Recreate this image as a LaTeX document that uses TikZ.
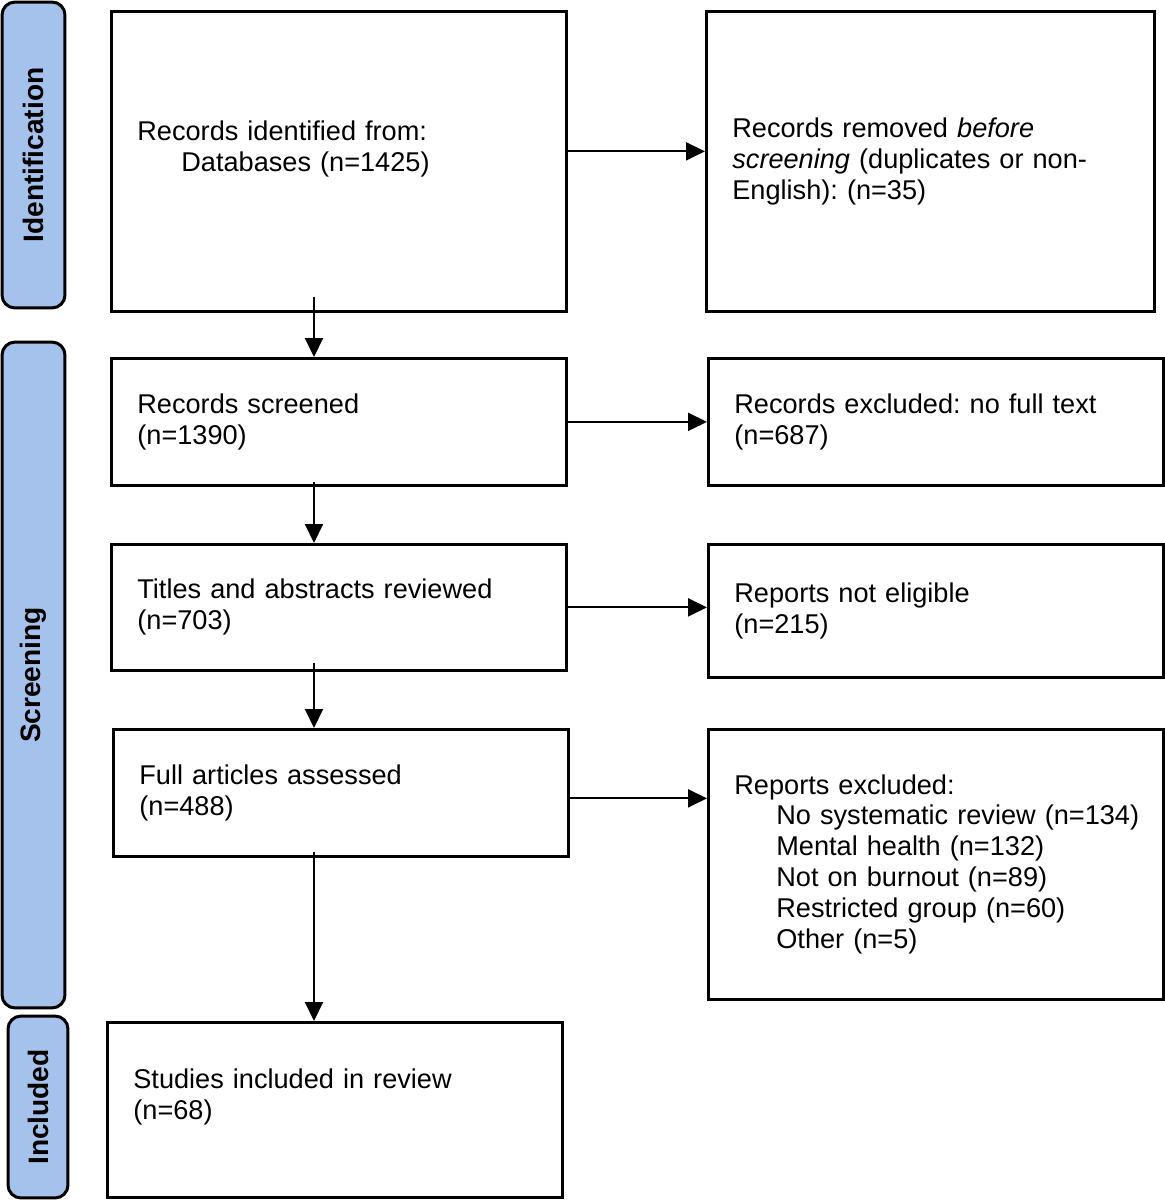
\documentclass[tikz,border=0pt]{standalone}
\usepackage{fontspec}
\setmainfont{Liberation Sans}
\usetikzlibrary{arrows.meta}
\definecolor{stageblue}{RGB}{164,194,235}
\def\px{0.02cm}
\frenchspacing
\tikzset{
semithick,
>={Triangle[length=0.38cm,width=0.36cm]},
stage/.style={draw,line width=0.06cm,rounded corners=0.26cm,fill=stageblue,inner sep=0pt,
  rotate=90,font=\fontsize{16}{19}\selectfont\bfseries},
box/.style={draw,line width=0.055cm,inner xsep=0.52cm,inner ysep=0pt,align=left,
  anchor=north west,font=\fontsize{15.45}{17.6}\selectfont},
wide/.style={text width=8.06cm,minimum width=9.1cm},
flow/.style={->,line width=0.04cm}
}
\begin{document}
\begin{tikzpicture}[x=\px,y=-\px]
\useasboundingbox (0,0) rectangle (1164,1200);
\node[stage,minimum width=6.12cm,minimum height=1.26cm] (ident) at (33.5,155) {Identification};
\node[stage,minimum width=13.32cm,minimum height=1.26cm] (scrn) at (33.5,675) {Screening};
\node[stage,minimum width=3.64cm,minimum height=1.2cm] (incl) at (38,1107) {Included};
\node[box,wide,minimum height=6cm] (rec) at (110,10)
  {Records identified from:\\\hspace*{0.88cm}Databases (n=1425)\\\mbox{}};
\node[box,text width=7.92cm,minimum width=8.96cm,minimum height=6cm] (rem) at (705,10)
  {Records removed \textit{before}\\\textit{screening} (duplicates or non-\\English): (n=35)};
\node[box,wide,minimum height=2.54cm] (scr) at (110,357)
  {Records screened\\(n=1390)};
\node[box,wide,minimum height=2.54cm] (exc) at (707,357)
  {Records excluded: no full text\\(n=687)};
\node[box,wide,minimum height=2.52cm] (tia) at (110,543)
  {Titles and abstracts reviewed\\(n=703)};
\node[box,wide,minimum height=2.66cm] (nel) at (707,543)
  {Reports not eligible\\(n=215)};
\node[box,wide,minimum height=2.54cm] (full) at (112,728)
  {Full articles assessed\\(n=488)};
\node[box,wide,minimum height=5.4cm] (rex) at (707,728)
  {Reports excluded:\\
  \hspace*{0.84cm}\mbox{No systematic review (n=134)}\\
  \hspace*{0.84cm}Mental health (n=132)\\
  \hspace*{0.84cm}Not on burnout (n=89)\\
  \hspace*{0.84cm}Restricted group (n=60)\\
  \hspace*{0.84cm}Other (n=5)};
\node[box,wide,minimum height=3.5cm] (inc) at (106,1021)
  {Studies included in review\\(n=68)\\\mbox{}};
\coordinate (spine) at (314,0);
\coordinate (recout) at ([yshift=0.2cm]rec.east);
\coordinate (fullout) at ([yshift=-0.11cm]full.east);
\draw[flow] ([yshift=0.32cm]rec.south -| spine) -- (scr.north -| spine);
\draw[flow] ([yshift=0.1cm]scr.south -| spine) -- (tia.north -| spine);
\draw[flow] ([yshift=0.18cm]tia.south -| spine) -- (full.north -| spine);
\draw[flow] ([yshift=0.12cm]full.south -| spine) -- (inc.north -| spine);
\draw[flow] (recout) -- (recout -| rem.west);
\draw[flow] (scr.east) -- (scr.east -| exc.west);
\draw[flow] (tia.east) -- (tia.east -| nel.west);
\draw[flow] (fullout) -- (fullout -| rex.west);
\end{tikzpicture}
\end{document}
